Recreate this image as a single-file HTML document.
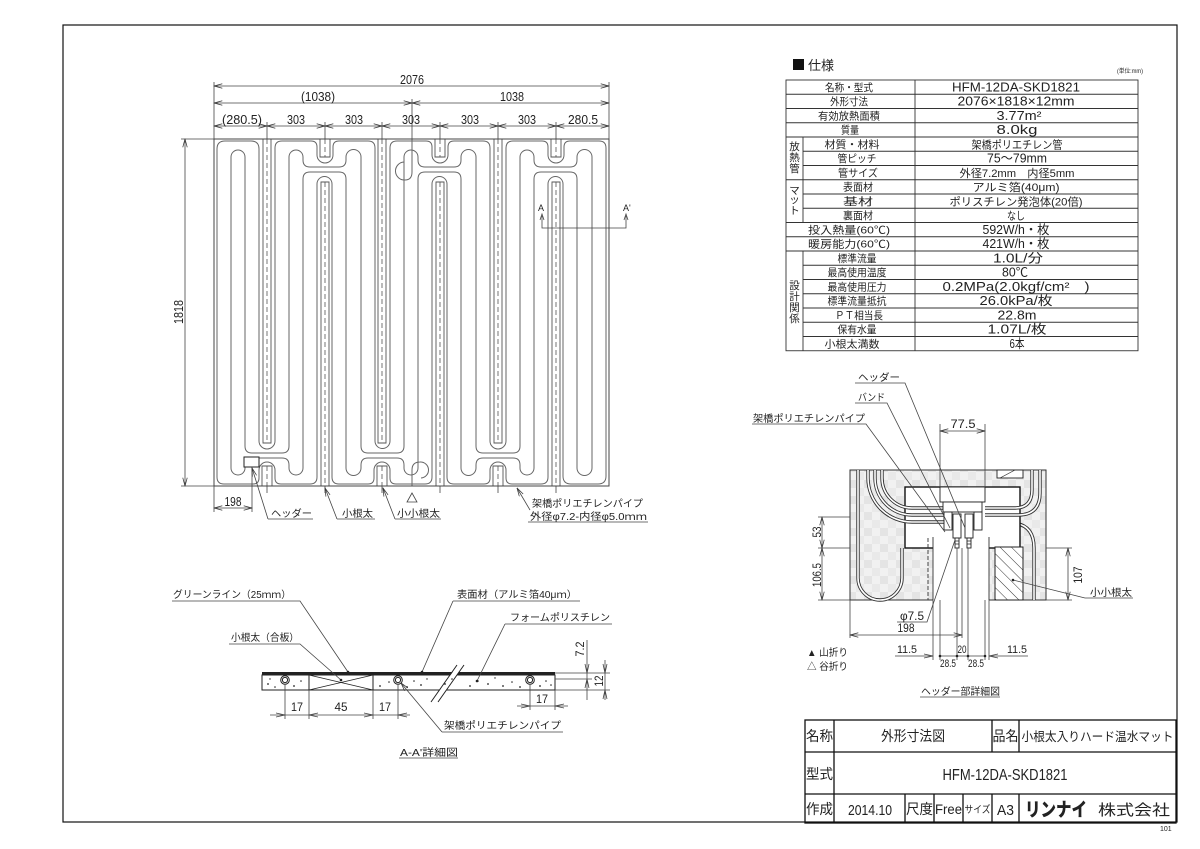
<!DOCTYPE html>
<html><head><meta charset="utf-8">
<style>
html,body{margin:0;padding:0;background:#fff;}
svg{display:block;}
text{font-family:"Liberation Sans","Noto Sans CJK JP",sans-serif;fill:#222;}
.cj{font-family:"Liberation Sans","Noto Sans CJK JP",sans-serif;}
</style></head><body>
<svg width="1200" height="849" viewBox="0 0 1200 849" xmlns="http://www.w3.org/2000/svg">
<defs>
<marker id="ar" viewBox="0 0 10 6" refX="10" refY="3" markerWidth="9" markerHeight="5" markerUnits="userSpaceOnUse" orient="auto-start-reverse"><path d="M0,0.3 L10,3 L0,5.7" fill="none" stroke="#333" stroke-width="0.9"/></marker>
<marker id="dt" viewBox="0 0 4 4" refX="2" refY="2" markerWidth="3" markerHeight="3" markerUnits="userSpaceOnUse"><circle cx="2" cy="2" r="2" fill="#222"/></marker>
<pattern id="tx" width="16" height="16" patternUnits="userSpaceOnUse"><rect width="16" height="16" fill="#f1f1f1"/><rect width="8" height="8" fill="#e4e4e4"/><rect x="8" y="8" width="8" height="8" fill="#e9e9e9"/></pattern>
<pattern id="hat" width="8" height="8" patternUnits="userSpaceOnUse" patternTransform="rotate(-45)"><rect width="8" height="8" fill="#fff"/><line x1="0" y1="0" x2="0" y2="8" stroke="#333" stroke-width="1"/></pattern>
</defs>

<!-- frame -->
<rect x="63" y="25" width="1114" height="797" fill="none" stroke="#111" stroke-width="1.2"/>

<!-- ================= PLAN ================= -->
<g fill="none" stroke="#666" stroke-width="1">
<!-- top-left nest -->
<path d="M217,300 V149 Q217,141 225,141 H251 Q259,141 259,149 V300"/>
<path d="M231,300 V157 A7,7 0 0 1 245,157 V300"/>
<!-- top crossing 325 -->
<path d="M275,300 V148 Q275,141 282,141 H311 Q317,141 317,147 V155 A8,8 0 0 0 333,155 V147 Q333,141 339,141 H368 Q375,141 375,148 V300"/>
<path d="M289,300 V157 A7,7 0 0 1 303,157 V160 Q303,167 310,167 H339 Q346,167 346,160 V157 A7.5,7.5 0 0 1 361,157 V300"/>
<path d="M303,300 V179 Q303,172 310,172 H339 Q346,172 346,179 V300"/>
<path d="M317,300 V184 A7.5,7.5 0 0 1 332,184 V300"/>
<!-- top crossing 440 -->
<path d="M390,300 V148 Q390,141 397,141 H426 Q432,141 432,147 V155 A8,8 0 0 0 448,155 V147 Q448,141 454,141 H483 Q490,141 490,148 V300"/>
<path d="M404,300 V157 A7,7 0 0 1 418,157 V160 Q418,167 425,167 H454 Q461,167 461,160 V157 A7.5,7.5 0 0 1 476,157 V300"/>
<path d="M418,300 V179 Q418,172 425,172 H454 Q461,172 461,179 V300"/>
<path d="M432,300 V184 A7.5,7.5 0 0 1 447,184 V300"/>
<!-- top crossing 556 -->
<path d="M506,300 V148 Q506,141 513,141 H542 Q548,141 548,147 V155 A8,8 0 0 0 564,155 V147 Q564,141 570,141 H599 Q606,141 606,148 V300"/>
<path d="M520,300 V157 A7,7 0 0 1 534,157 V160 Q534,167 541,167 H570 Q577,167 577,160 V157 A7.5,7.5 0 0 1 592,157 V300"/>
<path d="M534,300 V179 Q534,172 541,172 H570 Q577,172 577,179 V300"/>
<path d="M548,300 V184 A7.5,7.5 0 0 1 563,184 V300"/>
<!-- bottom crossing 267 -->
<path d="M217,300 V477 Q217,484 224,484 H253 Q259,484 259,478 V470 A8,8 0 0 1 275,470 V478 Q275,484 281,484 H310 Q317,484 317,477 V300"/>
<path d="M231,300 V468 A7,7 0 0 0 245,468 V465 Q245,458 252,458 H282 Q289,458 289,465 V468 A7,7 0 0 0 303,468 V300"/>
<path d="M245,300 V446 Q245,453 252,453 H282 Q289,453 289,446 V300"/>
<path d="M259,300 V441 A8,8 0 0 0 275,441 V300"/>
<!-- bottom crossing 382 -->
<path d="M332,300 V477 Q332,484 339,484 H368 Q374,484 374,478 V470 A8,8 0 0 1 390,470 V478 Q390,484 396,484 H425 Q432,484 432,477 V300"/>
<path d="M346,300 V468 A7.5,7.5 0 0 0 361,468 V465 Q361,458 368,458 H397 Q404,458 404,465 V468 A7,7 0 0 0 418,468 V300"/>
<path d="M361,300 V446 Q361,453 368,453 H397 Q404,453 404,446 V300"/>
<path d="M375,300 V441 A7.5,7.5 0 0 0 390,441 V300"/>
<!-- bottom crossing 498 -->
<path d="M447,300 V477 Q447,484 454,484 H484 Q490,484 490,478 V470 A8,8 0 0 1 506,470 V478 Q506,484 512,484 H541 Q548,484 548,477 V300"/>
<path d="M461,300 V468 A7.5,7.5 0 0 0 476,468 V465 Q476,458 483,458 H513 Q520,458 520,465 V468 A7,7 0 0 0 534,468 V300"/>
<path d="M476,300 V446 Q476,453 483,453 H513 Q520,453 520,446 V300"/>
<path d="M490,300 V441 A8,8 0 0 0 506,441 V300"/>
<!-- bottom-right nest -->
<path d="M563,300 V476 Q563,484 571,484 H598 Q606,484 606,476 V300"/>
<path d="M577,300 V468 A7.5,7.5 0 0 0 592,468 V300"/>
<!-- center S loops -->
<path d="M412,139 V172 Q412,180 405,180 A9,9 0 1 1 404,162"/>
<path d="M412,486 V470 Q412,462 420,462 A8,8 0 1 1 421,478"/>
</g>

<!-- members -->
<g fill="none" stroke="#555" stroke-width="0.9">
<!-- top-crossing members -->
<path d="M320,139 V157 H330 V139 M321,486 V182 H329 V486"/>
<path d="M435,139 V157 H445 V139 M436,486 V182 H444 V486"/>
<path d="M551,139 V157 H561 V139 M552,486 V182 H560 V486"/>
<!-- bottom-crossing members -->
<path d="M263,139 V443 H271 V139 M262,486 V466 H272 V486"/>
<path d="M378,139 V443 H386 V139 M377,486 V466 H387 V486"/>
<path d="M494,139 V443 H502 V139 M493,486 V466 H503 V486"/>
</g>
<g fill="none" stroke="#555" stroke-width="0.8" stroke-dasharray="5 3">
<path d="M325,139 V157 M325,182 V486 M440,139 V157 M440,182 V486 M556,139 V157 M556,182 V486"/>
<path d="M267,139 V443 M267,466 V486 M382,139 V443 M382,466 V486 M498,139 V443 M498,466 V486"/>
</g>
<!-- mat outline -->
<rect x="214" y="139" width="395" height="347" fill="none" stroke="#444" stroke-width="1"/>
<!-- header box -->
<rect x="244" y="457" width="15" height="10" fill="#fff" stroke="#222" stroke-width="1"/>

<!-- plan dimensions -->
<g fill="none" stroke="#444" stroke-width="0.8">
<path d="M214,82 V139 M609,82 V139 M412,99 V139"/>
<path d="M267,122 V139 M325,122 V139 M382,122 V139 M440,122 V139 M498,122 V139 M556,122 V139"/>
<path d="M181,139 H214 M181,486 H214"/>
<path d="M214,486 V512 M252,467 V512"/>
<path d="M267,486 V493 M325,486 V493 M382,486 V493 M440,486 V493 M498,486 V493 M556,486 V493"/>
<line x1="214" y1="86" x2="609" y2="86" marker-start="url(#ar)" marker-end="url(#ar)"/>
<line x1="214" y1="103" x2="412" y2="103" marker-start="url(#ar)" marker-end="url(#ar)"/>
<line x1="412" y1="103" x2="609" y2="103" marker-start="url(#ar)" marker-end="url(#ar)"/>
<line x1="214" y1="126" x2="267" y2="126" marker-start="url(#ar)" marker-end="url(#ar)"/>
<line x1="267" y1="126" x2="325" y2="126" marker-start="url(#ar)" marker-end="url(#ar)"/>
<line x1="325" y1="126" x2="382" y2="126" marker-start="url(#ar)" marker-end="url(#ar)"/>
<line x1="382" y1="126" x2="440" y2="126" marker-start="url(#ar)" marker-end="url(#ar)"/>
<line x1="440" y1="126" x2="498" y2="126" marker-start="url(#ar)" marker-end="url(#ar)"/>
<line x1="498" y1="126" x2="556" y2="126" marker-start="url(#ar)" marker-end="url(#ar)"/>
<line x1="556" y1="126" x2="609" y2="126" marker-start="url(#ar)" marker-end="url(#ar)"/>
<line x1="185" y1="139" x2="185" y2="486" marker-start="url(#ar)" marker-end="url(#ar)"/>
<line x1="214" y1="508" x2="252" y2="508" marker-start="url(#ar)" marker-end="url(#ar)"/>
<!-- A-A' section line -->
<path d="M542,216 V228 H626 V216"/>
<path d="M540,220 L542,214 L544,220 M624,220 L626,214 L628,220"/>
<!-- leaders -->
<path d="M268,519 H313 M337,519 H375 M395,519 H441 M528,522 H648"/>
<path d="M268,519 L252,468" marker-end="url(#ar)"/>
<path d="M337,519 L325,488" marker-end="url(#ar)"/>
<path d="M395,519 L383,488" marker-end="url(#ar)"/>
<path d="M530,510 L517,488" marker-end="url(#ar)"/>
<polygon points="407,502 412,493 417,502"/>
</g>
<g font-size="12.5">
<text x="412" y="84" text-anchor="middle" textLength="24" lengthAdjust="spacingAndGlyphs">2076</text>
<text x="318" y="101" text-anchor="middle" textLength="34" lengthAdjust="spacingAndGlyphs">(1038)</text>
<text x="512" y="101" text-anchor="middle" textLength="24" lengthAdjust="spacingAndGlyphs">1038</text>
<text x="242" y="124" text-anchor="middle" textLength="40" lengthAdjust="spacingAndGlyphs">(280.5)</text>
<text x="296" y="124" text-anchor="middle" textLength="18" lengthAdjust="spacingAndGlyphs">303</text>
<text x="354" y="124" text-anchor="middle" textLength="18" lengthAdjust="spacingAndGlyphs">303</text>
<text x="411" y="124" text-anchor="middle" textLength="18" lengthAdjust="spacingAndGlyphs">303</text>
<text x="470" y="124" text-anchor="middle" textLength="18" lengthAdjust="spacingAndGlyphs">303</text>
<text x="527" y="124" text-anchor="middle" textLength="18" lengthAdjust="spacingAndGlyphs">303</text>
<text x="583" y="124" text-anchor="middle" textLength="30" lengthAdjust="spacingAndGlyphs">280.5</text>
<text transform="translate(183,312) rotate(-90)" text-anchor="middle" textLength="24" lengthAdjust="spacingAndGlyphs">1818</text>
<text x="233" y="506" text-anchor="middle" textLength="17" lengthAdjust="spacingAndGlyphs">198</text>
</g>
<g font-size="9">
<text x="538" y="211">A</text>
<text x="623" y="211">A'</text>
</g>
<g font-size="10">
<text x="271" y="517" textLength="41" lengthAdjust="spacingAndGlyphs">ヘッダー</text>
<text x="342" y="517" textLength="31" lengthAdjust="spacingAndGlyphs">小根太</text>
<text x="397" y="517" textLength="43" lengthAdjust="spacingAndGlyphs">小小根太</text>
<text x="532" y="507" textLength="111" lengthAdjust="spacingAndGlyphs">架橋ポリエチレンパイプ</text>
<text x="530" y="520" textLength="117" lengthAdjust="spacingAndGlyphs">外径φ7.2-内径φ5.0ｍｍ</text>
</g>

<!-- ================= SECTION A-A' ================= -->
<rect x="262" y="672" width="293" height="3" fill="#222"/>
<rect x="262" y="675" width="293" height="15" fill="none" stroke="#222" stroke-width="1"/>
<rect x="309" y="675" width="64" height="15" fill="#fff" stroke="#222" stroke-width="1"/>
<path d="M309,675 L373,690 M309,690 L373,675" stroke="#222" stroke-width="0.8"/>
<polygon points="433,700 457,666 463,666 439,700" fill="#fff"/>
<path d="M431,702 L457,665 M438,702 L464,665" stroke="#222" stroke-width="1"/>
<g fill="#fff" stroke="#222" stroke-width="1">
<circle cx="285" cy="680" r="4.3"/><circle cx="285" cy="680" r="2.6"/>
<circle cx="398" cy="680" r="4.3"/><circle cx="398" cy="680" r="2.6"/>
<circle cx="530" cy="680" r="4.3"/><circle cx="530" cy="680" r="2.6"/>
</g>
<g fill="#222">
<circle cx="268" cy="684" r="0.9"/><circle cx="275" cy="687" r="0.8"/><circle cx="294" cy="686" r="0.9"/><circle cx="301" cy="681" r="0.8"/><circle cx="270" cy="679" r="0.7"/>
<circle cx="380" cy="686" r="0.9"/><circle cx="389" cy="682" r="0.8"/><circle cx="407" cy="687" r="0.9"/><circle cx="414" cy="681" r="0.8"/><circle cx="421" cy="685" r="0.9"/><circle cx="427" cy="679" r="0.7"/>
<circle cx="445" cy="684" r="0.9"/><circle cx="452" cy="679" r="0.8"/><circle cx="470" cy="686" r="0.9"/><circle cx="478" cy="681" r="0.8"/><circle cx="488" cy="684" r="0.9"/><circle cx="495" cy="678" r="0.7"/><circle cx="503" cy="686" r="0.9"/><circle cx="512" cy="682" r="0.8"/><circle cx="520" cy="687" r="0.9"/>
<circle cx="540" cy="686" r="0.9"/><circle cx="546" cy="681" r="0.8"/><circle cx="551" cy="685" r="0.8"/>
</g>
<g fill="none" stroke="#444" stroke-width="0.8">
<path d="M285,684 V719 M309,690 V719 M373,690 V719 M398,684 V719"/>
<path d="M270,715 H410"/>
<path d="M276,713 L285,715 L276,717 M318,713 L309,715 L318,717 M364,713 L373,715 L364,717 M407,713 L398,715 L407,717"/>
<path d="M530,684 V710 M555,690 V710 M517,706 H568"/>
<path d="M521,704 L530,706 L521,708 M564,704 L555,706 L564,708"/>
<path d="M555,673 H610 M555,679 H592 M555,690 H610"/>
<path d="M587,640 V700 M585,664 L587,673 L589,664 M585,688 L587,679 L589,688"/>
<path d="M605,660 V700 M603,664 L605,673 L607,664 M603,699 L605,690 L607,699"/>
<path d="M172,601 H300 L348,672 M229,644 H300 L341,680 M453,601 H580 M453,601 L422,672 M505,624 H612 M505,624 L477,681 M442,732 H563"/>
<path d="M442,732 L401,683" marker-end="url(#ar)"/>
<path d="M399,758 H458"/>
</g>
<g fill="#222"><circle cx="348" cy="672" r="1.3"/><circle cx="341" cy="680" r="1.3"/><circle cx="422" cy="672" r="1.3"/><circle cx="477" cy="681" r="1.3"/></g>
<g font-size="12">
<text x="297" y="711" text-anchor="middle" textLength="12" lengthAdjust="spacingAndGlyphs">17</text>
<text x="341" y="711" text-anchor="middle" textLength="13" lengthAdjust="spacingAndGlyphs">45</text>
<text x="385" y="711" text-anchor="middle" textLength="12" lengthAdjust="spacingAndGlyphs">17</text>
<text x="542" y="703" text-anchor="middle" textLength="12" lengthAdjust="spacingAndGlyphs">17</text>
<text transform="translate(584,649) rotate(-90)" text-anchor="middle" textLength="15" lengthAdjust="spacingAndGlyphs">7.2</text>
<text transform="translate(603,681) rotate(-90)" text-anchor="middle" textLength="11" lengthAdjust="spacingAndGlyphs">12</text>
</g>
<g font-size="10">
<text x="173" y="598" textLength="118" lengthAdjust="spacingAndGlyphs">グリーンライン（25ｍｍ）</text>
<text x="231" y="641" textLength="68" lengthAdjust="spacingAndGlyphs">小根太（合板）</text>
<text x="457" y="598" textLength="120" lengthAdjust="spacingAndGlyphs">表面材（アルミ箔40μｍ）</text>
<text x="510" y="621" textLength="100" lengthAdjust="spacingAndGlyphs">フォームポリスチレン</text>
<text x="444" y="729" textLength="117" lengthAdjust="spacingAndGlyphs">架橋ポリエチレンパイプ</text>
<text x="400" y="756" textLength="58" lengthAdjust="spacingAndGlyphs">A-A'詳細図</text>
</g>

<!-- ================= SPEC TABLE ================= -->
<rect x="793" y="59" width="11" height="11" fill="#111"/>
<text x="808" y="70" font-size="13">仕様</text>
<text x="1117" y="73" font-size="6" textLength="26" lengthAdjust="spacingAndGlyphs">(単位:mm)</text>
<g fill="none" stroke="#333" stroke-width="0.9">
<rect x="786" y="80" width="352" height="270.75"/>
<path d="M915,80 V350.75"/>
<path d="M803,137 V222.5 M803,251 V350.75"/>
<path d="M786,94.25 H1138 M786,108.5 H1138 M786,122.75 H1138 M786,137 H1138"/>
<path d="M803,151.25 H1138 M803,165.5 H1138"/>
<path d="M786,179.75 H1138"/>
<path d="M803,194 H1138 M803,208.25 H1138"/>
<path d="M786,222.5 H1138 M786,236.75 H1138 M786,251 H1138"/>
<path d="M803,265.25 H1138 M803,279.5 H1138 M803,293.75 H1138 M803,308 H1138 M803,322.25 H1138 M803,336.5 H1138"/>
</g>
<g font-size="10.5" text-anchor="middle">
<text x="849" y="91" textLength="48" lengthAdjust="spacingAndGlyphs">名称・型式</text>
<text x="849" y="105" textLength="38" lengthAdjust="spacingAndGlyphs">外形寸法</text>
<text x="849" y="119.5" textLength="62" lengthAdjust="spacingAndGlyphs">有効放熱面積</text>
<text x="850" y="133.5" textLength="18" lengthAdjust="spacingAndGlyphs">質量</text>
<text x="852" y="148" textLength="55" lengthAdjust="spacingAndGlyphs">材質・材料</text>
<text x="857" y="162" textLength="39" lengthAdjust="spacingAndGlyphs">管ピッチ</text>
<text x="858" y="176.5" textLength="40" lengthAdjust="spacingAndGlyphs">管サイズ</text>
<text x="858" y="190.5" textLength="30" lengthAdjust="spacingAndGlyphs">表面材</text>
<text x="858" y="205" textLength="30" lengthAdjust="spacingAndGlyphs">基材</text>
<text x="858" y="219" textLength="30" lengthAdjust="spacingAndGlyphs">裏面材</text>
<text x="849" y="233.5" textLength="82" lengthAdjust="spacingAndGlyphs">投入熱量(60℃)</text>
<text x="849" y="247.5" textLength="82" lengthAdjust="spacingAndGlyphs">暖房能力(60℃)</text>
<text x="857" y="262" textLength="39" lengthAdjust="spacingAndGlyphs">標準流量</text>
<text x="857" y="276" textLength="59" lengthAdjust="spacingAndGlyphs">最高使用温度</text>
<text x="857" y="290.5" textLength="59" lengthAdjust="spacingAndGlyphs">最高使用圧力</text>
<text x="857" y="304.5" textLength="59" lengthAdjust="spacingAndGlyphs">標準流量抵抗</text>
<text x="859" y="319" textLength="48" lengthAdjust="spacingAndGlyphs">ＰＴ相当長</text>
<text x="857" y="333" textLength="39" lengthAdjust="spacingAndGlyphs">保有水量</text>
<text x="852" y="347.5" textLength="55" lengthAdjust="spacingAndGlyphs">小根太満数</text>
</g>
<g font-size="10.5" text-anchor="middle">
<text x="794.5" y="150">放</text><text x="794.5" y="161">熱</text><text x="794.5" y="172">管</text>
<text x="794.5" y="194">マ</text><text x="794.5" y="203">ッ</text><text x="794.5" y="214">ト</text>
<text x="794.5" y="289">設</text><text x="794.5" y="300">計</text><text x="794.5" y="311">関</text><text x="794.5" y="322">係</text>
</g>
<g font-size="12.5" text-anchor="middle">
<text x="1016" y="91.5" textLength="128" lengthAdjust="spacingAndGlyphs">HFM-12DA-SKD1821</text>
<text x="1016" y="105.5" textLength="117" lengthAdjust="spacingAndGlyphs">2076×1818×12mm</text>
<text x="1019" y="120" textLength="45" lengthAdjust="spacingAndGlyphs">3.77m²</text>
<text x="1017" y="134" textLength="41" lengthAdjust="spacingAndGlyphs">8.0kg</text>
<text x="1017" y="148.5" font-size="11" textLength="91" lengthAdjust="spacingAndGlyphs">架橋ポリエチレン管</text>
<text x="1017" y="162.5" textLength="60" lengthAdjust="spacingAndGlyphs">75〜79mm</text>
<text x="1017" y="177" font-size="11" textLength="115" lengthAdjust="spacingAndGlyphs">外径7.2mm　内径5mm</text>
<text x="1016" y="191" font-size="11" textLength="87" lengthAdjust="spacingAndGlyphs">アルミ箔(40μm)</text>
<text x="1016" y="205.5" font-size="11" textLength="133" lengthAdjust="spacingAndGlyphs">ポリスチレン発泡体(20倍)</text>
<text x="1016" y="219.5" font-size="11" textLength="18" lengthAdjust="spacingAndGlyphs">なし</text>
<text x="1016" y="234" textLength="67" lengthAdjust="spacingAndGlyphs">592W/h・枚</text>
<text x="1016" y="248" textLength="67" lengthAdjust="spacingAndGlyphs">421W/h・枚</text>
<text x="1018" y="262.5" textLength="50" lengthAdjust="spacingAndGlyphs">1.0L/分</text>
<text x="1015" y="276.5" textLength="26" lengthAdjust="spacingAndGlyphs">80℃</text>
<text x="1016" y="291" textLength="147" lengthAdjust="spacingAndGlyphs">0.2MPa(2.0kgf/cm²　)</text>
<text x="1016" y="305" textLength="73" lengthAdjust="spacingAndGlyphs">26.0kPa/枚</text>
<text x="1017" y="319.5" textLength="39" lengthAdjust="spacingAndGlyphs">22.8m</text>
<text x="1017" y="333.5" textLength="59" lengthAdjust="spacingAndGlyphs">1.07L/枚</text>
<text x="1017" y="348" textLength="15" lengthAdjust="spacingAndGlyphs">6本</text>
</g>

<!-- ================= HEADER DETAIL ================= -->
<rect x="850" y="470" width="196" height="130" fill="url(#tx)" stroke="#333" stroke-width="1"/>
<rect x="933" y="537" width="56" height="64" fill="#fff"/>
<g fill="none">
<path d="M858,470 V578 A22,22 0 0 0 902,578 V548" stroke="#333" stroke-width="3.4"/>
<path d="M858,470 V578 A22,22 0 0 0 902,578 V548" stroke="#fff" stroke-width="1.6"/>
<path d="M985,523 H1010 Q1034,523 1034,548 V600" stroke="#333" stroke-width="3.4"/>
<path d="M985,523 H1010 Q1034,523 1034,548 V600" stroke="#fff" stroke-width="1.6"/>
</g>
<rect x="905" y="487" width="115" height="61" fill="#fff" stroke="#111" stroke-width="1.4"/>
<rect x="933" y="537" width="56" height="12" fill="#fff"/>
<g fill="none">
<path d="M882,470 V478 A30,30 0 0 0 912,508 H945 M875,470 V478 A37,37 0 0 0 912,515 H945 M868,470 V478 A44,44 0 0 0 912,522 H945 M985,508 H1015 Q1032,508 1032,490 V470 M985,515 H1018 Q1040,515 1040,493 V470" stroke="#333" stroke-width="3.4"/>
<path d="M882,470 V478 A30,30 0 0 0 912,508 H945 M875,470 V478 A37,37 0 0 0 912,515 H945 M868,470 V478 A44,44 0 0 0 912,522 H945 M985,508 H1015 Q1032,508 1032,490 V470 M985,515 H1018 Q1040,515 1040,493 V470" stroke="#fff" stroke-width="1.6"/>
</g>
<g fill="#fff" stroke="#222" stroke-width="0.9">
<rect x="940" y="487" width="45" height="15"/>
<rect x="943" y="502" width="39" height="10"/>
<rect x="944" y="512" width="8" height="18"/>
<rect x="974" y="512" width="8" height="18"/>
<rect x="953" y="514" width="8" height="24"/>
<rect x="965" y="514" width="8" height="24"/>
<rect x="955" y="538" width="4" height="10"/>
<rect x="967" y="538" width="4" height="10"/>
<rect x="997" y="470" width="26" height="8"/>
</g>
<path d="M955,541 H959 M955,544 H959 M967,541 H971 M967,544 H971 M1000,478 L1015,470" stroke="#222" stroke-width="0.7"/>
<rect x="995" y="547" width="28" height="53" fill="url(#hat)" stroke="#222" stroke-width="1"/>
<g fill="none" stroke="#333" stroke-width="0.9">
<path d="M933,537 V600 M989,537 V600"/>
<path d="M928,538 V600" stroke-dasharray="4 2"/>
</g>
<g fill="none" stroke="#444" stroke-width="0.8">
<path d="M940,424 V487 M985,424 V487"/>
<line x1="940" y1="431" x2="985" y2="431" marker-start="url(#ar)" marker-end="url(#ar)"/>
<path d="M818,517 H850 M818,548 H850 M818,600 H850"/>
<line x1="822" y1="517" x2="822" y2="548" marker-start="url(#ar)" marker-end="url(#ar)"/>
<line x1="822" y1="548" x2="822" y2="600" marker-start="url(#ar)" marker-end="url(#ar)"/>
<path d="M1046,548 H1072 M1046,600 H1072"/>
<line x1="1068" y1="548" x2="1068" y2="600" marker-start="url(#ar)" marker-end="url(#ar)"/>
<path d="M850,600 V638 M962,548 V638"/>
<line x1="850" y1="635" x2="962" y2="635" marker-start="url(#ar)" marker-end="url(#ar)"/>
<path d="M933,600 V660 M940,600 V660 M957,548 V660 M968,548 V660 M985,600 V660 M989,600 V660"/>
<path d="M895,656 H933 M989,656 H1028 M940,656 H985"/>
<path d="M924,654 L933,656 L924,658 M998,654 L989,656 L998,658"/>
<path d="M897,622 H927 L955,540"/>
<path d="M855,383 H905 L965,528 M855,403 H887 L950,528 M752,424 H866 L945,532"/>
<path d="M1085,598 H1133 M1085,598 L1013,580"/>
<path d="M920,697 H1000"/>
</g>
<g fill="#222"><circle cx="940" cy="656" r="1.3"/><circle cx="957" cy="656" r="1.3"/><circle cx="968" cy="656" r="1.3"/><circle cx="985" cy="656" r="1.3"/><circle cx="1013" cy="580" r="1.3"/></g>
<g font-size="12">
<text x="963" y="428" text-anchor="middle" textLength="25" lengthAdjust="spacingAndGlyphs">77.5</text>
<text transform="translate(821,532) rotate(-90)" text-anchor="middle" textLength="11" lengthAdjust="spacingAndGlyphs">53</text>
<text transform="translate(821,575) rotate(-90)" text-anchor="middle" textLength="24" lengthAdjust="spacingAndGlyphs">106.5</text>
<text transform="translate(1082,575) rotate(-90)" text-anchor="middle" textLength="17" lengthAdjust="spacingAndGlyphs">107</text>
<text x="906" y="632" text-anchor="middle" textLength="17" lengthAdjust="spacingAndGlyphs">198</text>
<text x="912" y="620" text-anchor="middle" textLength="24" lengthAdjust="spacingAndGlyphs">φ7.5</text>
<text x="907" y="653" text-anchor="middle" font-size="11" textLength="20" lengthAdjust="spacingAndGlyphs">11.5</text>
<text x="962" y="653" text-anchor="middle" font-size="11" textLength="9" lengthAdjust="spacingAndGlyphs">20</text>
<text x="1017" y="653" text-anchor="middle" font-size="11" textLength="20" lengthAdjust="spacingAndGlyphs">11.5</text>
<text x="948" y="667" text-anchor="middle" font-size="11" textLength="16" lengthAdjust="spacingAndGlyphs">28.5</text>
<text x="976" y="667" text-anchor="middle" font-size="11" textLength="16" lengthAdjust="spacingAndGlyphs">28.5</text>
</g>
<g font-size="10">
<text x="858" y="381" textLength="42" lengthAdjust="spacingAndGlyphs">ヘッダー</text>
<text x="858" y="401" textLength="27" lengthAdjust="spacingAndGlyphs">バンド</text>
<text x="753" y="422" textLength="112" lengthAdjust="spacingAndGlyphs">架橋ポリエチレンパイプ</text>
<text x="1090" y="596" textLength="42" lengthAdjust="spacingAndGlyphs">小小根太</text>
<text x="807" y="656" textLength="41" lengthAdjust="spacingAndGlyphs">▲ 山折り</text>
<text x="807" y="670" textLength="41" lengthAdjust="spacingAndGlyphs">△ 谷折り</text>
<text x="921" y="695" textLength="79" lengthAdjust="spacingAndGlyphs">ヘッダー部詳細図</text>
</g>

<!-- ================= TITLE BLOCK ================= -->
<g fill="none" stroke="#111" stroke-width="1.3">
<rect x="805" y="720" width="371" height="103"/>
<path d="M805,752 H1176 M805,794 H1176"/>
<path d="M834,720 V823 M992,720 V752 M1019,720 V752 M992,794 V823 M1019,794 V823 M905,794 V823 M934,794 V823 M963,794 V823"/>
</g>
<g font-size="14" text-anchor="middle">
<text x="819.5" y="741" textLength="27" lengthAdjust="spacingAndGlyphs">名称</text>
<text x="913" y="741" textLength="64" lengthAdjust="spacingAndGlyphs">外形寸法図</text>
<text x="1005.5" y="741" textLength="26" lengthAdjust="spacingAndGlyphs">品名</text>
<text x="1097.5" y="741" font-size="12.5" textLength="152" lengthAdjust="spacingAndGlyphs">小根太入りハード温水マット</text>
<text x="819.5" y="779" textLength="27" lengthAdjust="spacingAndGlyphs">型式</text>
<text x="1005" y="780" font-size="16" textLength="125" lengthAdjust="spacingAndGlyphs">HFM-12DA-SKD1821</text>
<text x="819.5" y="814" textLength="27" lengthAdjust="spacingAndGlyphs">作成</text>
<text x="870" y="815" font-size="15" textLength="44" lengthAdjust="spacingAndGlyphs">2014.10</text>
<text x="919.5" y="814" textLength="27" lengthAdjust="spacingAndGlyphs">尺度</text>
<text x="948.5" y="814" textLength="27" lengthAdjust="spacingAndGlyphs">Free</text>
<text x="977.5" y="813" font-size="10" textLength="26" lengthAdjust="spacingAndGlyphs">サイズ</text>
<text x="1005.5" y="815" font-size="15" textLength="17" lengthAdjust="spacingAndGlyphs">A3</text>
<text x="1056" y="816" font-size="19" font-weight="bold" textLength="62" lengthAdjust="spacingAndGlyphs" style="font-weight:900">リンナイ</text>
<text x="1134" y="815" font-size="15" textLength="72" lengthAdjust="spacingAndGlyphs">株式会社</text>
</g>
<text x="1160" y="831" font-size="7">101</text>
</svg>
</body></html>
